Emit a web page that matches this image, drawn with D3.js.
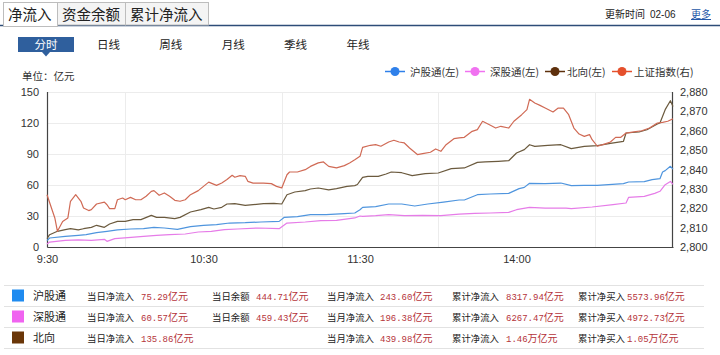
<!DOCTYPE html>
<html><head><meta charset="utf-8">
<script src="https://cdn.jsdelivr.net/npm/d3@7"></script>
<style>
html,body{margin:0;padding:0;background:#fff;}
svg{display:block;font-family:"Liberation Sans",Arial,"Noto Sans CJK SC",sans-serif;}
</style></head><body>
<svg id="c" width="720" height="355"></svg>
<script>
// ---------- data ----------
const tabs = ["净流入","资金余额","累计净流入"];
const periods = ["分时","日线","周线","月线","季线","年线"];
const updateLabel = "更新时间";
const updateDate = "02-06";
const moreLabel = "更多";
const unitLabel = "单位：亿元";
const seriesNames = ["沪股通(左)","深股通(左)","北向(左)","上证指数(右)"];
const leftTicks = [0,30,60,90,120,150];
const rightTicks = [2800,2810,2820,2830,2840,2850,2860,2870,2880];
const timeTicks = [0,60,120,180];            // minutes from open
const timeTickLabels = ["9:30","10:30","11:30","14:00"];
const timeGrid = [30,90,150,210];

// 沪股通 net inflow (亿元)
const shMin = [0,1,7,12,15,19,23,27,32,37,41,45,50,55,60,65,70,76,82,89,91,96,101,107,114,118,120,121,126,131,136,141,146,152,158,160,165,170,177,181,183,185,191,197,201,206,211,221,223,229,232,235,236,237,239,240];
const shVal = [6.1,8.7,10.3,11.3,11.9,13.9,15.2,16.5,17.4,17.7,19.0,18.4,17.1,19.7,21.0,21.6,23.2,23.5,24.2,24.8,28.7,29.4,31.3,31.3,32.3,32.9,36.0,38.4,39.0,41.6,41.6,39.7,41.6,43.5,45.5,45.5,50.6,51.3,51.9,56.5,57.7,61.6,61.3,61.9,59.4,59.7,59.7,61.3,62.9,63.2,65.2,66.1,72.6,73.9,78.1,75.29];
// 深股通 net inflow (亿元)
const szMin = [0,1,7,12,17,22,23,26,31,37,42,47,53,58,63,68,73,81,89,92,99,105,111,118,120,121,126,131,137,144,151,158,164,170,177,180,185,191,199,201,209,217,222,223,229,233,235,237,239,240];
const szVal = [2.9,4.8,6.5,6.8,6.5,7.4,5.5,8.1,9.0,10.3,11.3,11.9,12.6,14.5,15.2,16.8,17.4,18.4,17.7,23.2,24.2,25.5,25.8,28.1,30.0,29.7,30.3,31.3,30.3,30.6,30.3,31.9,32.6,32.9,33.5,36.1,38.4,37.7,37.7,37.1,38.7,41.0,42.6,48.1,49.0,51.9,53.9,60.3,63.5,60.57];
// 北向 net inflow (亿元)
const nbMin = [0,1,4,7,9,12,14,17,19,22,24,27,30,33,36,40,42,45,49,51,55,59,62,64,67,69,72,76,79,83,87,90,92,95,99,101,104,108,111,115,118,119,120,121,123,127,130,132,136,140,145,150,155,160,165,168,173,177,180,183,185,187,192,197,201,206,211,216,221,222,227,230,234,235,237,239,240];
const nbVal = [8.1,11.9,15.2,16.8,17.7,16.5,17.7,19.0,21.0,19.0,22.3,24.8,24.8,26.5,26.5,30.6,28.7,28.7,27.4,28.7,33.9,36.1,38.4,36.8,38.4,41.6,41.9,40.3,41.0,41.9,42.3,41.6,50.6,53.2,54.5,56.1,57.1,55.2,56.5,58.7,59.4,60.5,64.0,67.4,68.4,68.4,70.6,72.6,71.9,69.0,71.0,71.6,75.8,76.5,81.9,82.3,82.9,83.5,91.0,94.2,99.0,97.4,98.4,99.0,95.2,97.4,98.1,100.3,102.3,110.3,111.3,113.5,119.0,120.0,132.9,141.6,135.86];
// 上证指数
const idxMin = [0,2,3,4,6,8,9,11,13,14,16,17,19,22,23,24,26,27,29,30,32,34,36,38,40,41,43,45,47,49,51,53,55,58,60,62,65,67,69,71,72,74,76,77,79,83,86,88,90,92,93,96,99,101,104,106,108,111,114,116,118,120,121,124,126,128,131,133,135,137,139,142,144,147,149,151,153,156,158,160,163,165,167,170,172,174,177,179,182,184,185,187,189,191,194,196,198,200,202,204,206,208,209,211,214,216,218,220,222,225,228,231,234,236,238,240];
const idxVal = [2827.0,2819.0,2815.0,2808.1,2813.2,2815.0,2823.6,2827.0,2823.6,2820.1,2818.8,2819.3,2822.2,2823.2,2821.8,2819.8,2819.8,2824.4,2825.3,2824.4,2825.6,2824.4,2824.4,2826.2,2828.7,2829.1,2826.7,2827.9,2826.2,2824.1,2823.6,2824.4,2827.0,2829.1,2831.3,2833.5,2831.8,2833.0,2834.8,2837.0,2836.0,2836.8,2836.5,2833.9,2833.0,2833.0,2832.7,2831.3,2830.5,2837.3,2838.7,2838.7,2839.9,2841.6,2843.4,2843.9,2841.6,2840.8,2842.0,2843.4,2845.0,2846.8,2851.4,2852.5,2852.8,2852.0,2854.2,2855.1,2854.2,2853.7,2851.1,2847.7,2848.2,2848.9,2850.6,2849.4,2852.8,2855.9,2856.3,2856.6,2859.7,2860.6,2864.9,2862.8,2861.4,2862.3,2861.4,2864.9,2868.3,2870.9,2876.2,2874.3,2873.1,2871.7,2869.7,2871.7,2871.7,2868.3,2861.4,2858.3,2857.1,2858.0,2855.4,2852.0,2853.2,2854.2,2856.6,2856.6,2858.8,2859.4,2860.0,2861.4,2864.0,2864.3,2864.9,2866.2];

// summary table
const tableNames = ["沪股通","深股通","北向"];
const colLabels = ["当日净流入","当日余额","当月净流入","累计净流入","累计净买入"];
const dayNetFlow = ["75.29","60.57","135.86"];
const dayBalance = ["444.71","459.43",null];
const monthNetFlow = ["243.60","196.38","439.98"];
const cumNetFlow = ["8317.94","6267.47","1.46"];
const cumNetFlowUnit = ["亿元","亿元","万亿元"];
const cumNetBuy = ["5573.96","4972.73","1.05"];
const cumNetBuyUnit = ["亿元","亿元","万亿元"];

// ---------- style ----------
const lineColors = ["#4f95de","#e67ce8","#6b5a3e","#d06a55"];
const markColors = ["#2f80ea","#f072f0","#5e300c","#e5502c"];
const tableColors = ["#1f8bf0","#f063f0","#6a3608"];
const CJK = '"Noto Sans CJK SC","Liberation Sans",sans-serif';

const svg = d3.select("#c");

// ---------- header tabs ----------
const tabX = [3,57,125], tabW = [54,68,83];
svg.append("line").attr("x1",0).attr("x2",720).attr("y1",25.5).attr("y2",25.5)
  .attr("stroke","#2d4d78").attr("stroke-width",1.5);
tabs.forEach((t,i)=>{
  svg.append("rect").attr("x",tabX[i]+0.5).attr("y",2.5).attr("width",tabW[i]).attr("height",i===0?24:22.5)
    .attr("fill",i===0?"#fff":"#f4f4f4").attr("stroke","#bdbdbd");
  svg.append("text").attr("x",tabX[i]+5).attr("y",19.5).attr("font-family",CJK)
    .attr("font-size",14.5).attr("fill","#222").text(t);
});
svg.append("text").attr("x",605).attr("y",18).attr("font-family",CJK).attr("font-size",10).attr("fill","#222").text(updateLabel);
svg.append("text").attr("x",650).attr("y",18).attr("font-size",10).attr("fill","#222").text(updateDate);
svg.append("text").attr("x",691).attr("y",18).attr("font-family",CJK).attr("font-size",10).attr("fill","#2457a8")
  .attr("text-decoration","underline").text(moreLabel);

// ---------- period buttons ----------
periods.forEach((p,i)=>{
  const cx = 46 + i*62.4;
  if(i===0){
    svg.append("rect").attr("x",18).attr("y",37).attr("width",56).attr("height",15).attr("fill","#2f5f9d");
    svg.append("path").attr("d",`M${cx-4},52 L${cx+4},52 L${cx},56.5 Z`).attr("fill","#2f5f9d");
  }
  svg.append("text").attr("x",cx).attr("y",48.5).attr("text-anchor","middle").attr("font-family",CJK)
    .attr("font-size",11.5).attr("fill",i===0?"#fff":"#222").text(p);
});

// ---------- chart ----------
const x = d3.scaleLinear().domain([0,240]).range([47,673]);
const yL = d3.scaleLinear().domain([0,150]).range([247,92]);
const yR = d3.scaleLinear().domain([2800,2880]).range([247,92]);

svg.append("text").attr("x",22).attr("y",80).attr("font-family",CJK).attr("font-size",10.5).attr("fill","#333").text(unitLabel);

// grid
svg.append("g").selectAll("line").data(leftTicks.filter(d=>d>0)).join("line")
  .attr("x1",47).attr("x2",673).attr("y1",d=>Math.round(yL(d))+0.5).attr("y2",d=>Math.round(yL(d))+0.5)
  .attr("stroke","#ececec");
svg.append("g").selectAll("line").data(timeGrid).join("line")
  .attr("x1",d=>Math.round(x(d))+0.5).attr("x2",d=>Math.round(x(d))+0.5).attr("y1",92).attr("y2",247)
  .attr("stroke","#ececec");

// axes
const axL = svg.append("g").attr("transform","translate(47,0)")
  .call(d3.axisLeft(yL).tickValues(leftTicks).tickSize(0).tickPadding(8));
const axR = svg.append("g").attr("transform","translate(673,0)")
  .call(d3.axisRight(yR).tickValues(rightTicks).tickFormat(d3.format(",")).tickSize(0).tickPadding(7));
const axB = svg.append("g").attr("transform","translate(0,247)")
  .call(d3.axisBottom(x).tickValues(timeTicks).tickFormat((d,i)=>timeTickLabels[i]).tickSize(0).tickPadding(8));
[axL,axR,axB].forEach(g=>{
  g.selectAll("text").attr("font-family","'Liberation Sans',Arial,sans-serif").attr("font-size",11).attr("fill","#333");
  g.select(".domain").attr("stroke","#444").attr("stroke-width",1.2);
});
axL.select(".domain").attr("d","M0.5,92V247.5");
axR.select(".domain").attr("d","M-0.5,92V247.5");

// lines
const lineL = d3.line().x(d=>x(d[0])).y(d=>yL(d[1]));
const lineR = d3.line().x(d=>x(d[0])).y(d=>yR(d[1]));
const series = [
  {d:d3.zip(shMin,shVal), f:lineL},
  {d:d3.zip(szMin,szVal), f:lineL},
  {d:d3.zip(nbMin,nbVal), f:lineL},
  {d:d3.zip(idxMin,idxVal), f:lineR}
];
series.forEach((s,i)=>{
  svg.append("path").datum(s.d).attr("d",s.f).attr("fill","none")
    .attr("stroke",lineColors[i]).attr("stroke-width",1.2).attr("stroke-linejoin","round");
});

// legend
const legX = [395,475,555,622];
seriesNames.forEach((n,i)=>{
  const g = svg.append("g").attr("transform",`translate(${legX[i]},71.5)`);
  g.append("line").attr("x1",-10).attr("x2",10).attr("stroke",markColors[i]).attr("stroke-width",1.5);
  g.append("circle").attr("r",4.5).attr("fill",markColors[i]);
  g.append("text").attr("x",i<2?15:12).attr("y",4).attr("font-family",CJK).attr("font-size",10.5).attr("fill","#333").text(n);
});

// ---------- summary table ----------
const rowY = [295.5,316.5,337.5];
[285,306,327,348].forEach(y=>{
  svg.append("line").attr("x1",4).attr("x2",704).attr("y1",y+0.5).attr("y2",y+0.5).attr("stroke","#e2e2e2");
});
const labX = [87,212,327,452,578], valX = [141,256,380,506,627];
const cols = [dayNetFlow,dayBalance,monthNetFlow,cumNetFlow,cumNetBuy];
const units = [["亿元","亿元","亿元"],["亿元","亿元","亿元"],["亿元","亿元","亿元"],cumNetFlowUnit,cumNetBuyUnit];
tableNames.forEach((n,r)=>{
  const y = rowY[r];
  svg.append("rect").attr("x",12).attr("y",y-6).attr("width",12).attr("height",12).attr("fill",tableColors[r]);
  svg.append("text").attr("x",33).attr("y",y+4).attr("font-family",CJK).attr("font-size",11).attr("fill","#222").text(n);
  cols.forEach((c,k)=>{
    if(c[r]===null) return;
    svg.append("text").attr("x",labX[k]).attr("y",y+4).attr("font-family",CJK).attr("font-size",9.4).attr("fill","#222").text(colLabels[k]);
    const t = svg.append("text").attr("x",valX[k]).attr("y",y+4).attr("fill","#b5333a");
    t.append("tspan").attr("font-family","'Liberation Mono','DejaVu Sans Mono',monospace").attr("font-size",9).text(c[r]);
    t.append("tspan").attr("font-family",CJK).attr("font-size",10).text(units[k][r]);
  });
});
</script>
</body></html>
